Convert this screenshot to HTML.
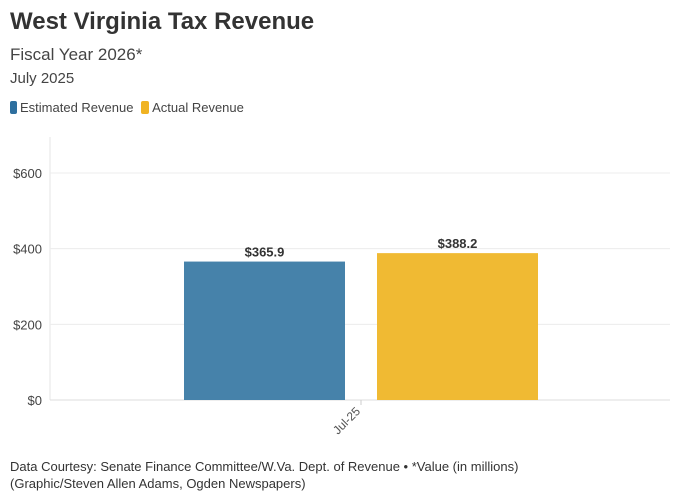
<!DOCTYPE html>
<html><head><meta charset="utf-8"><style>
body{margin:0;width:690px;height:500px;background:#fff;font-family:"Liberation Sans",sans-serif;color:#333;position:relative;overflow:hidden}
.t{position:absolute;left:10px;white-space:nowrap}
</style></head><body>
<div class="t" style="top:8px;font-size:24px;font-weight:bold;color:#333">West Virginia Tax Revenue</div>
<div class="t" style="top:45px;font-size:17px;color:#444">Fiscal Year 2026*</div>
<div class="t" style="top:70px;font-size:15px;color:#444">July 2025</div>
<div class="t" style="top:100px;font-size:13px;color:#444">
<span><span style="display:inline-block;width:7px;height:13px;background:#2e6f9e;border-radius:2px;vertical-align:-2px;margin-right:3px"></span>Estimated Revenue</span>
<span style="margin-left:4px"><span style="display:inline-block;width:8px;height:13px;background:#f0b323;border-radius:2px;vertical-align:-2px;margin-right:3px"></span>Actual Revenue</span>
</div>
<svg id="c" width="690" height="500" style="position:absolute;left:0;top:0"></svg>
<div class="t" style="top:459px;font-size:13px;color:#333">Data Courtesy: Senate Finance Committee/W.Va. Dept. of Revenue • *Value (in millions)</div>
<div class="t" style="top:476px;font-size:13px;color:#333">(Graphic/Steven Allen Adams, Ogden Newspapers)</div>
<script>
const categories=["Jul-25"];
const estimated=[365.9];
const actual=[388.2];
const yTicks=[0,200,400,600];
const ns="http://www.w3.org/2000/svg",svg=document.getElementById('c');
const x0=50,x1=670,yBase=400,yTop=137,scale=227/600;
const y=v=>yBase-v*scale;
function mk(t,a){const e=document.createElementNS(ns,t);for(const k in a)e.setAttribute(k,a[k]);svg.appendChild(e);return e;}
let v=mk('line',{x1:x0,x2:x0,y1:yTop,y2:yBase,stroke:'#e6e6e6'});


yTicks.forEach(t=>{
 const g=mk('line',{x1:x0,x2:x1,y1:y(t),y2:y(t),stroke:t===0?'#ddd':'#ececec'});
 
 
 const l=mk('text',{x:42,y:y(t)+5,'text-anchor':'end','font-size':13,fill:'#444'});
 
 
 l.textContent='$'+t;
});
const band=(x1-x0)/categories.length;
categories.forEach((c,i)=>{
 const cx=x0+band*(i+0.5)+1,bw=161,gap=32;
 [[estimated[i],'#4682aa',cx-gap/2-bw,'bar-estimated'],[actual[i],'#f0ba33',cx+gap/2,'bar-actual']].forEach(([val,col,bx,nm])=>{
  const r=mk('rect',{x:bx,y:y(val),width:bw,height:yBase-y(val),fill:col});
  
  
  const t=mk('text',{x:bx+bw/2,y:y(val)-5,'text-anchor':'middle','font-size':13,'font-weight':'bold',fill:'#333'});
  
  
  t.textContent='$'+val.toFixed(1);
 });
 const tk=mk('line',{x1:cx,x2:cx,y1:yBase,y2:yBase+5,stroke:'#ccc'});
 
 
 const xl=mk('text',{x:cx,y:yBase+12,'text-anchor':'end','font-size':12,fill:'#555',transform:`rotate(-45 ${cx} ${yBase+12})`});
 
 
 xl.textContent=c;
});
</script>
</body></html>
